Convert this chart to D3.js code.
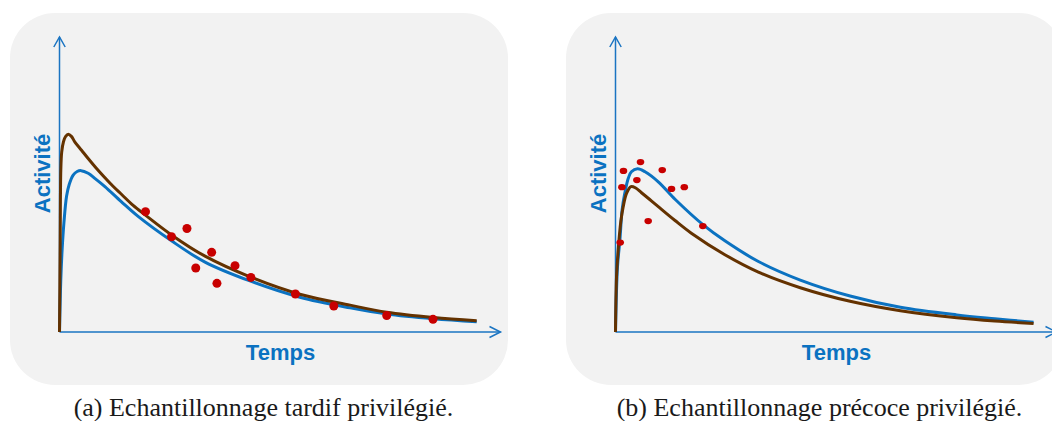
<!DOCTYPE html>
<html><head><meta charset="utf-8">
<script src="https://cdn.jsdelivr.net/npm/d3@7"></script>
<style>body{margin:0;background:#fff} svg{display:block}</style>
</head><body>
<svg id="c" width="1052" height="421"></svg>
<script>
// ---- data (time and activity, arbitrary units 0..100) ----
const yLabel = "Activité";
const xLabel = "Temps";
const captions = ["(a) Echantillonnage tardif privilégié.", "(b) Echantillonnage précoce privilégié."];

// Panel (a)
const brownA_t = [0, 0.15, 0.3, 0.5, 0.9, 1.4, 2.0, 2.7, 3.5, 5, 6.5, 8.3, 10.3, 12.2, 14.1, 16.7, 19.4, 25.4, 33, 43.2, 54.5, 65.9, 74.2, 84.8, 94.6];
const brownA_v = [0, 30, 55, 61, 64.5, 66.3, 67, 66.3, 64.4, 61.6, 58.8, 55.6, 52.3, 49.3, 46.6, 42.9, 39.7, 32.9, 25.7, 18.7, 12.8, 9.1, 6.7, 4.9, 3.8];
const blueA_t  = [0, 0.11, 0.3, 0.6, 1.0, 1.6, 2.2, 3.1, 4.0, 4.9, 6.5, 8.0, 10.3, 14.0, 17.9, 25.4, 33, 43.2, 54.5, 65.9, 74.2, 84.8, 94.6];
const blueA_v  = [0, 7.5, 18, 28, 37, 46, 50, 53.2, 54.4, 54.7, 53.8, 52.1, 49.3, 44.2, 39.1, 30.9, 23.7, 17.3, 11.8, 8.2, 6.1, 4.5, 3.5];
const ptsA_t   = [19.5, 25.4, 28.9, 34.5, 30.9, 39.8, 35.7, 43.4, 53.5, 62.2, 74.2, 84.7];
const ptsA_v   = [40.8, 32.3, 35.1, 27.0, 21.7, 22.5, 16.5, 18.5, 12.9, 8.8, 5.6, 4.3];

// Panel (b)
const brownB_t = [0, 0.23, 0.61, 1.2, 1.75, 2.5, 3.5, 4.6, 5.9, 7.7, 9.7, 13.5, 17.2, 24.8, 32.4, 41.9, 53.2, 64.6, 77.4, 86, 94.8];
const brownB_v = [0, 18.7, 27.8, 37.4, 42.5, 47, 49.3, 48.8, 47.2, 45, 42.5, 37.8, 33.5, 26.2, 20.3, 15.0, 10.4, 7.2, 4.8, 3.7, 2.9];
const blueB_t  = [0, 0.45, 1.0, 1.5, 2.1, 2.9, 3.6, 5.0, 6.7, 9.7, 13.5, 19.9, 24.8, 32.4, 41.9, 53.2, 64.6, 77.4, 86, 94.8];
const blueB_v  = [0, 22.1, 31.2, 41.4, 47, 52.1, 54.3, 55.3, 54.3, 50.9, 45.0, 36.3, 30.9, 23.9, 17.6, 12.2, 8.4, 5.8, 4.5, 3.3];
const ptsB_t   = [1.07, 1.45, 1.81, 4.85, 5.67, 7.41, 10.6, 12.7, 15.6, 19.8];
const ptsB_v   = [30.3, 49.1, 54.6, 51.5, 57.6, 37.6, 54.9, 48.5, 49.1, 35.9];

// ---- drawing ----
const BLUE = "#0b72c1", BROWN = "#643200", RED = "#c80000", BG = "#f2f2f2", AXIS = "#1a74c2";
const svg = d3.select("#c");
const zip = (a, b) => a.map((v, i) => [v, b[i]]);

function panel(dx, blue, brown, pts, caption, rx, ry) {
  const g = svg.append("g").attr("transform", `translate(${dx},0)`);
  g.append("rect").attr("x", 10).attr("y", 13).attr("width", 498).attr("height", 372)
    .attr("rx", 45).attr("fill", BG);
  const x = d3.scaleLinear().domain([0, 100]).range([59.5, 500.5]);
  const y = d3.scaleLinear().domain([0, 100]).range([332, 37]);

  // axes
  const ax = g.append("g").attr("fill", "none").attr("stroke", AXIS).attr("stroke-width", 1.5);
  ax.append("path").attr("d", d3.line()([[x(0), y(0)], [x(100), y(0)]]));
  ax.append("path").attr("d", d3.line()([[x(0), y(0)], [x(0), y(100)]]));
  ax.append("path").attr("d", d3.line()([[x(100) - 11, y(0) - 5.5], [x(100), y(0)], [x(100) - 11, y(0) + 5.5]]));
  ax.append("path").attr("d", d3.line()([[x(0) - 5.7, y(100) + 10], [x(0), y(100)], [x(0) + 5.7, y(100) + 10]]));

  const line = d3.line().x(d => x(d[0])).y(d => y(d[1])).curve(d3.curveCatmullRom.alpha(0.5));
  g.append("path").datum(blue).attr("d", line).attr("fill", "none")
    .attr("stroke", BLUE).attr("stroke-width", 3).attr("stroke-linejoin", "round");
  g.append("path").datum(brown).attr("d", line).attr("fill", "none")
    .attr("stroke", BROWN).attr("stroke-width", 3).attr("stroke-linejoin", "round");

  g.selectAll("ellipse.pt").data(pts).join("ellipse").attr("class", "pt")
    .attr("cx", d => x(d[0])).attr("cy", d => y(d[1]))
    .attr("rx", rx).attr("ry", ry).attr("fill", RED);

  g.append("text").text(xLabel).attr("x", 280.5).attr("y", 360)
    .attr("text-anchor", "middle").attr("fill", BLUE)
    .style("font", "bold 22px 'Liberation Sans', Arial, sans-serif");
  g.append("text").text(yLabel).attr("transform", "translate(50,173.5) rotate(-90)")
    .attr("text-anchor", "middle").attr("fill", BLUE)
    .style("font", "bold 22px 'Liberation Sans', Arial, sans-serif");

  g.append("text").text(caption).attr("x", 263.5).attr("y", 416)
    .attr("text-anchor", "middle").attr("fill", "#1a1a1a")
    .style("font", "26px 'Liberation Serif', 'Times New Roman', serif");
}

panel(0, zip(blueA_t, blueA_v), zip(brownA_t, brownA_v), zip(ptsA_t, ptsA_v), captions[0], 4.5, 4.5);
panel(556, zip(blueB_t, blueB_v), zip(brownB_t, brownB_v), zip(ptsB_t, ptsB_v), captions[1], 3.8, 3.1);
</script>
</body></html>
